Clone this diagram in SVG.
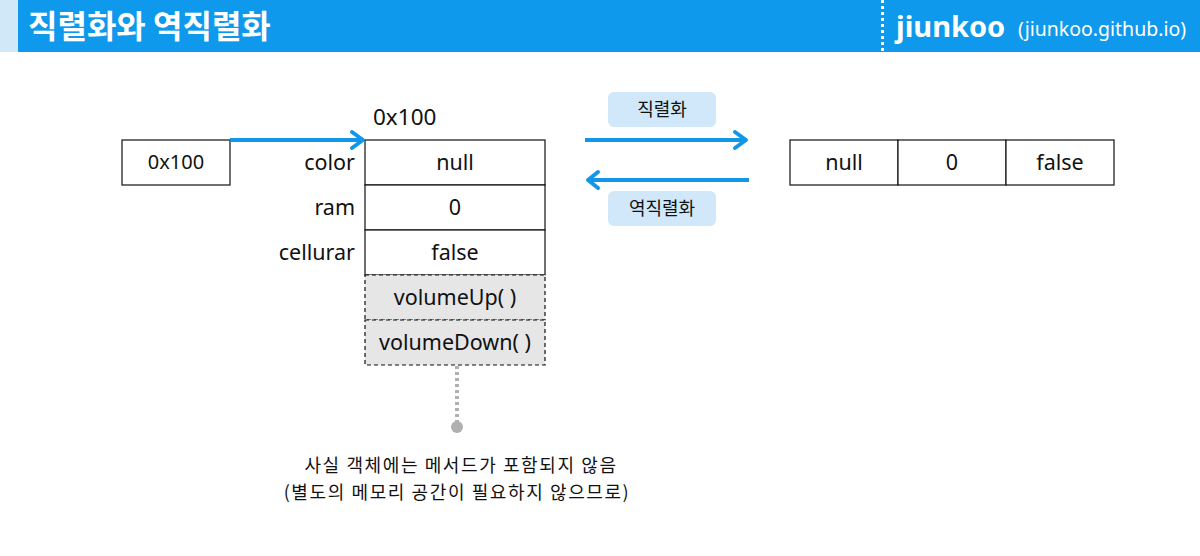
<svg xmlns="http://www.w3.org/2000/svg" width="1200" height="556" viewBox="0 0 1200 556">
<style>
text{font-family:"Noto Sans","Noto Sans CJK KR",sans-serif;fill:#111}
.cell{fill:#fff;stroke:#111;stroke-width:1.2}
.mcell{fill:#e6e6e6;stroke:#111;stroke-width:1.2;stroke-dasharray:4 3}
.v{font-size:21.5px;text-anchor:middle}
.lbl{font-size:21.5px;text-anchor:end}
.tag{fill:#d0e8fa}
.tagt{font-size:18px;text-anchor:middle;font-family:"Noto Sans CJK KR",sans-serif}
.note{font-family:"Noto Sans CJK KR",sans-serif;font-size:18px;letter-spacing:1.6px;text-anchor:middle}
.conn{stroke:#1296e8;stroke-width:4;fill:none}
.head{stroke:#1296e8;stroke-width:4;fill:none;stroke-linecap:round;stroke-linejoin:round}
</style>
<rect x="0" y="0" width="1200" height="52" fill="#0e99ec"/>
<rect x="0" y="0" width="18" height="52" fill="#d0e8f8"/>
<text x="28" y="38" style="font-family:'Noto Sans CJK KR',sans-serif;font-weight:bold;font-size:32px;fill:#fff">직렬화와 역직렬화</text>
<line x1="882.5" y1="0" x2="882.5" y2="52" stroke="#fff" stroke-width="3" stroke-dasharray="3 3"/>
<text x="896" y="37" style="font-weight:bold;font-size:29px;fill:#fff">jiunkoo</text>
<text x="1018" y="36" style="font-size:19.5px;fill:#fff">(jiunkoo.github.io)</text>

<g id="ref">
<rect class="cell" x="122" y="140" width="108" height="45"/>
<text x="176" y="169" style="font-size:20px;text-anchor:middle">0x100</text>
</g>

<g id="object">
<text x="373" y="125" style="font-size:22.5px">0x100</text>
<rect class="cell" x="365" y="140" width="180" height="45"/>
<rect class="cell" x="365" y="185" width="180" height="45"/>
<rect class="cell" x="365" y="230" width="180" height="45"/>
<rect class="mcell" x="365" y="275" width="180" height="45"/>
<rect class="mcell" x="365" y="320" width="180" height="45"/>
<text class="v" x="455" y="170">null</text>
<text class="v" x="455" y="215">0</text>
<text class="v" x="455" y="260">false</text>
<text class="v" x="455" y="305">volumeUp( )</text>
<text class="v" x="455" y="350">volumeDown( )</text>
<text class="lbl" x="355" y="170">color</text>
<text class="lbl" x="355" y="215">ram</text>
<text class="lbl" x="355" y="260">cellurar</text>
</g>

<g id="bytes">
<rect class="cell" x="790" y="140" width="108" height="45"/>
<rect class="cell" x="898" y="140" width="108" height="45"/>
<rect class="cell" x="1006" y="140" width="108" height="45"/>
<text class="v" x="844" y="170">null</text>
<text class="v" x="952" y="170">0</text>
<text class="v" x="1060" y="170">false</text>
</g>

<g id="tag-ser">
<rect class="tag" x="608" y="92" width="108" height="35" rx="6"/>
<text class="tagt" x="662" y="116">직렬화</text>
</g>
<g id="tag-deser">
<rect class="tag" x="608" y="191" width="108" height="35" rx="6"/>
<text class="tagt" x="662" y="215">역직렬화</text>
</g>

<g id="note">
<text class="note" x="461" y="472">사실 객체에는 메서드가 포함되지 않음</text>
<text class="note" x="457" y="499">(별도의 메모리 공간이 필요하지 않으므로)</text>
</g>

<g id="connectors">
<line class="conn" x1="230" y1="140" x2="362" y2="140"/>
<polyline class="head" points="352,132 363,140 352,148"/>
<line class="conn" x1="585" y1="140" x2="745" y2="140"/>
<polyline class="head" points="735,132 746,140 735,148"/>
<line class="conn" x1="749" y1="180" x2="590" y2="180"/>
<polyline class="head" points="598,172 588,180 598,188"/>
<line x1="457" y1="366" x2="457" y2="424" stroke="#b0b0b0" stroke-width="4" stroke-dasharray="3 3"/>
<circle cx="457" cy="427" r="6" fill="#b0b0b0"/>
</g>
</svg>
